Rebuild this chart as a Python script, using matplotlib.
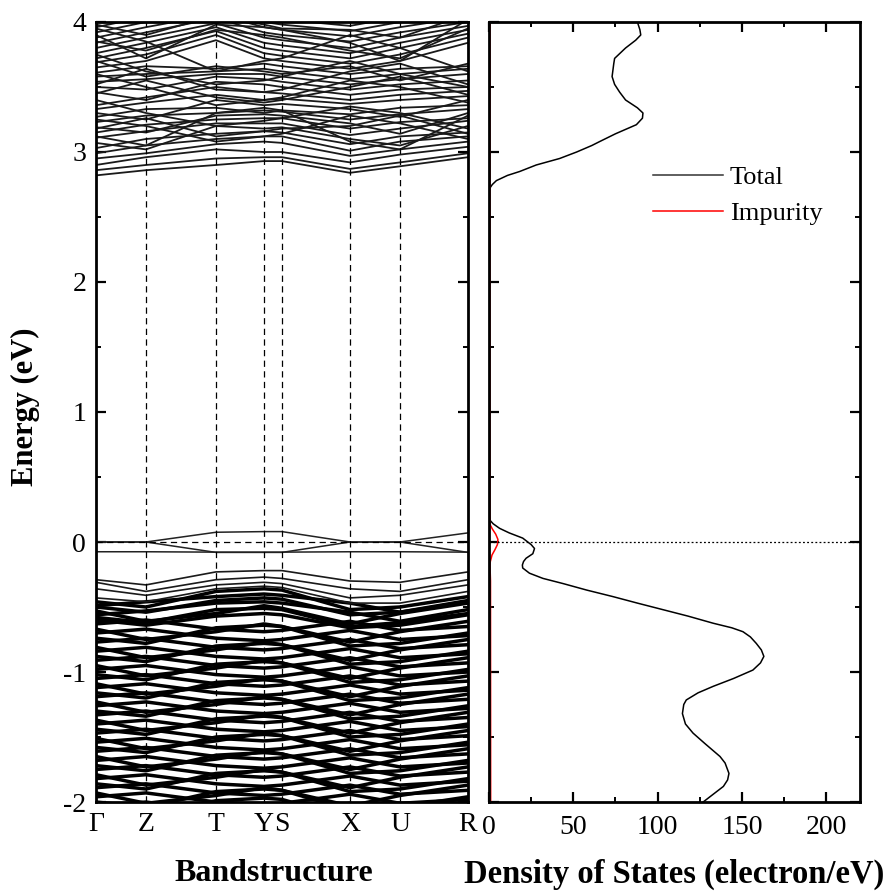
import matplotlib
matplotlib.use('Agg')
import matplotlib.pyplot as plt
from matplotlib.ticker import MultipleLocator

plt.rcParams['font.family'] = ['Liberation Serif', 'DejaVu Serif']
plt.rcParams['axes.unicode_minus'] = False

# ---------------- data ----------------
k_labels = ['Γ', 'Z', 'T', 'Y', 'S', 'X', 'U', 'R']
k_pos = [0, 50, 120, 168, 186, 254, 304, 372]

# band energies (eV) at Γ, Z, T, Y, S, X, U, R
impurity_bands = [
    [0.00, 0.00, 0.075, 0.08, 0.08, 0.00, 0.00, 0.07],
    [0.00, 0.00, -0.08, -0.08, -0.08, 0.00, 0.00, -0.08],
    [-0.075, -0.075, -0.078, -0.078, -0.078, -0.075, -0.075, -0.078],
]

edge_valence_bands = [
    [-0.29, -0.33, -0.23, -0.22, -0.22, -0.30, -0.31, -0.23],
    [-0.31, -0.38, -0.29, -0.27, -0.28, -0.36, -0.38, -0.29],
    [-0.36, -0.41, -0.33, -0.31, -0.32, -0.43, -0.41, -0.33],
    [-0.43, -0.46, -0.36, -0.34, -0.35, -0.47, -0.47, -0.38],
]

valence_bands = [
    [-0.46, -0.50, -0.38, -0.36, -0.37, -0.52, -0.50, -0.42],
    [-0.49, -0.46, -0.42, -0.40, -0.41, -0.47, -0.54, -0.45],
    [-0.50, -0.54, -0.45, -0.43, -0.44, -0.56, -0.54, -0.46],
    [-0.53, -0.61, -0.55, -0.49, -0.51, -0.63, -0.55, -0.47],
    [-0.56, -0.53, -0.47, -0.46, -0.47, -0.54, -0.61, -0.52],
    [-0.58, -0.62, -0.52, -0.51, -0.52, -0.65, -0.62, -0.55],
    [-0.60, -0.64, -0.57, -0.55, -0.56, -0.66, -0.64, -0.56],
    [-0.63, -0.60, -0.67, -0.69, -0.68, -0.61, -0.68, -0.65],
    [-0.67, -0.75, -0.69, -0.63, -0.65, -0.77, -0.69, -0.61],
    [-0.70, -0.67, -0.74, -0.76, -0.75, -0.68, -0.75, -0.72],
    [-0.74, -0.78, -0.66, -0.64, -0.65, -0.80, -0.78, -0.70],
    [-0.77, -0.74, -0.81, -0.83, -0.82, -0.75, -0.82, -0.79],
    [-0.81, -0.89, -0.83, -0.77, -0.79, -0.91, -0.83, -0.75],
    [-0.84, -0.81, -0.88, -0.90, -0.89, -0.82, -0.89, -0.86],
    [-0.88, -0.92, -0.80, -0.78, -0.79, -0.94, -0.92, -0.84],
    [-0.91, -0.88, -0.95, -0.97, -0.96, -0.89, -0.96, -0.93],
    [-0.95, -1.03, -0.97, -0.91, -0.93, -1.05, -0.97, -0.89],
    [-0.98, -0.95, -1.02, -1.04, -1.03, -0.96, -1.03, -1.00],
    [-1.02, -1.06, -0.94, -0.92, -0.93, -1.08, -1.06, -0.98],
    [-1.05, -1.02, -1.09, -1.11, -1.10, -1.03, -1.10, -1.07],
    [-1.09, -1.17, -1.11, -1.05, -1.07, -1.19, -1.11, -1.03],
    [-1.12, -1.09, -1.16, -1.18, -1.17, -1.10, -1.17, -1.14],
    [-1.16, -1.20, -1.08, -1.06, -1.07, -1.22, -1.20, -1.12],
    [-1.19, -1.16, -1.23, -1.25, -1.24, -1.17, -1.24, -1.21],
    [-1.23, -1.31, -1.25, -1.19, -1.21, -1.33, -1.25, -1.17],
    [-1.26, -1.23, -1.30, -1.32, -1.31, -1.24, -1.31, -1.28],
    [-1.30, -1.34, -1.22, -1.20, -1.21, -1.36, -1.34, -1.26],
    [-1.33, -1.30, -1.37, -1.39, -1.38, -1.31, -1.38, -1.35],
    [-1.37, -1.45, -1.39, -1.33, -1.35, -1.47, -1.39, -1.31],
    [-1.40, -1.37, -1.44, -1.46, -1.45, -1.38, -1.45, -1.42],
    [-1.44, -1.48, -1.36, -1.34, -1.35, -1.50, -1.48, -1.40],
    [-1.47, -1.44, -1.51, -1.53, -1.52, -1.45, -1.52, -1.49],
    [-1.51, -1.59, -1.53, -1.47, -1.49, -1.61, -1.53, -1.45],
    [-1.54, -1.51, -1.58, -1.60, -1.59, -1.52, -1.59, -1.56],
    [-1.58, -1.62, -1.50, -1.48, -1.49, -1.64, -1.62, -1.54],
    [-1.61, -1.58, -1.65, -1.67, -1.66, -1.59, -1.66, -1.63],
    [-1.65, -1.73, -1.67, -1.61, -1.63, -1.75, -1.67, -1.59],
    [-1.68, -1.65, -1.72, -1.74, -1.73, -1.66, -1.73, -1.70],
    [-1.72, -1.76, -1.64, -1.62, -1.63, -1.78, -1.76, -1.68],
    [-1.75, -1.72, -1.79, -1.81, -1.80, -1.73, -1.80, -1.77],
    [-1.79, -1.87, -1.81, -1.75, -1.77, -1.89, -1.81, -1.73],
    [-1.82, -1.79, -1.86, -1.88, -1.87, -1.80, -1.87, -1.84],
    [-1.86, -1.90, -1.78, -1.76, -1.77, -1.92, -1.90, -1.82],
    [-1.89, -1.86, -1.93, -1.95, -1.94, -1.87, -1.94, -1.91],
    [-1.93, -2.01, -1.95, -1.89, -1.91, -2.03, -1.95, -1.87],
    [-1.96, -1.93, -2.00, -2.02, -2.01, -1.94, -2.01, -1.98],
    [-2.00, -2.04, -1.92, -1.90, -1.91, -2.06, -2.04, -1.96],
    [-2.03, -2.00, -2.07, -2.09, -2.08, -2.01, -2.08, -2.05],
    [-2.07, -2.11, -1.99, -1.97, -1.98, -2.13, -2.11, -2.03],
]

conduction_bands = [
    [2.82, 2.86, 2.90, 2.93, 2.93, 2.84, 2.89, 2.96],
    [2.86, 2.90, 2.95, 2.96, 2.96, 2.87, 2.92, 2.99],
    [2.90, 2.96, 3.02, 3.00, 3.00, 2.92, 2.98, 3.04],
    [2.95, 2.99, 3.06, 3.08, 3.07, 2.97, 3.02, 3.08],
    [2.99, 3.05, 3.10, 3.12, 3.12, 3.01, 3.08, 3.12],
    [3.03, 3.10, 3.14, 3.16, 3.15, 3.06, 3.12, 3.15],
    [3.07, 3.02, 3.20, 3.18, 3.19, 3.10, 3.05, 3.20],
    [3.11, 3.16, 3.22, 3.22, 3.22, 3.13, 3.18, 3.24],
    [3.15, 3.21, 3.25, 3.26, 3.26, 3.18, 3.23, 3.26],
    [3.19, 3.15, 3.28, 3.29, 3.28, 3.22, 3.14, 3.30],
    [3.23, 3.28, 3.30, 3.32, 3.31, 3.25, 3.29, 3.33],
    [3.27, 3.33, 3.34, 3.30, 3.32, 3.29, 3.34, 3.36],
    [3.30, 3.25, 3.40, 3.36, 3.37, 3.33, 3.27, 3.40],
    [3.33, 3.38, 3.44, 3.40, 3.41, 3.37, 3.40, 3.43],
    [3.36, 3.42, 3.50, 3.46, 3.45, 3.40, 3.44, 3.47],
    [3.46, 3.40, 3.54, 3.52, 3.50, 3.44, 3.48, 3.50],
    [3.50, 3.48, 3.58, 3.56, 3.54, 3.48, 3.52, 3.55],
    [3.54, 3.56, 3.60, 3.60, 3.58, 3.52, 3.56, 3.60],
    [3.58, 3.60, 3.62, 3.64, 3.62, 3.56, 3.60, 3.64],
    [3.61, 3.66, 3.64, 3.68, 3.66, 3.60, 3.64, 3.66],
    [3.65, 3.70, 3.86, 3.72, 3.70, 3.64, 3.70, 3.84],
    [3.69, 3.75, 3.90, 3.76, 3.74, 3.68, 3.75, 3.88],
    [3.72, 3.80, 3.93, 3.80, 3.78, 3.72, 3.80, 3.91],
    [3.76, 3.84, 3.96, 3.84, 3.82, 3.76, 3.84, 3.94],
    [3.80, 3.88, 3.99, 3.88, 3.86, 3.80, 3.88, 3.97],
    [3.84, 3.92, 4.03, 3.92, 3.90, 3.85, 3.92, 4.00],
    [3.88, 3.96, 4.06, 3.96, 3.94, 3.89, 3.96, 4.04],
    [3.92, 4.00, 4.10, 4.00, 3.98, 3.93, 4.00, 4.08],
    [3.96, 4.04, 4.12, 4.04, 4.02, 3.97, 4.04, 4.10],
    [4.00, 4.08, 4.15, 4.08, 4.06, 4.01, 4.08, 4.12],
    [3.40, 3.30, 3.20, 3.24, 3.26, 3.35, 3.30, 3.18],
    [3.60, 3.50, 3.36, 3.40, 3.42, 3.55, 3.50, 3.38],
    [3.75, 3.62, 3.52, 3.55, 3.58, 3.70, 3.60, 3.50],
    [3.95, 3.85, 3.62, 3.70, 3.72, 3.90, 3.80, 3.62],
    [3.25, 3.20, 3.08, 3.12, 3.14, 3.28, 3.22, 3.10],
    [3.12, 3.05, 3.30, 3.34, 3.32, 3.08, 3.02, 3.28],
    [3.45, 3.55, 3.42, 3.38, 3.40, 3.50, 3.58, 3.44],
    [3.70, 3.58, 3.66, 3.62, 3.60, 3.66, 3.55, 3.68],
    [3.85, 3.78, 3.94, 3.90, 3.88, 3.78, 3.72, 3.95],
    [3.52, 3.64, 3.48, 3.46, 3.48, 3.62, 3.68, 3.52],
    [3.18, 3.26, 3.12, 3.16, 3.18, 3.20, 3.28, 3.14],
    [3.90, 3.72, 3.98, 3.96, 3.94, 3.84, 3.70, 4.02],
    [3.98, 3.90, 4.05, 3.98, 3.95, 3.94, 3.88, 4.06],
]

# density of states
dos_energy = [-2.00, -1.94, -1.88, -1.83, -1.78, -1.70, -1.65, -1.55, -1.47, -1.40,
              -1.32, -1.25, -1.215, -1.16, -1.11, -1.05, -0.985, -0.93, -0.88, -0.83,
              -0.78, -0.73, -0.69, -0.66, -0.625, -0.57, -0.52, -0.47, -0.42, -0.37,
              -0.32, -0.28, -0.24, -0.20, -0.177, -0.15, -0.125, -0.09, -0.05, -0.02,
              0.03, 0.07, 0.105, 0.14, 0.17, 0.22, 2.68, 2.72, 2.75, 2.78,
              2.82, 2.85, 2.90, 2.95, 3.00, 3.05, 3.08, 3.14, 3.21, 3.26,
              3.30, 3.34, 3.40, 3.46, 3.52, 3.58, 3.63, 3.68, 3.72, 3.80,
              3.86, 3.90, 3.94, 4.00]
dos_total = [127, 133, 139, 141.5, 142.3, 140, 137, 128, 121, 116.5,
             114.7, 115.5, 117, 124, 133, 145, 156.5, 161, 163, 161.5,
             158.5, 155, 150.6, 144, 133, 118, 103, 88, 73.5, 58,
             44, 32, 24, 20, 19.8, 20.5, 22, 26, 27, 25,
             20, 12, 6.3, 2.5, 0.4, 0, 0, 0.4, 2, 4.4,
             11, 18.2, 28, 41.9, 52, 61, 65.6, 75, 87.4, 91,
             91.3, 88, 81, 77.5, 74.5, 73, 73.5, 74, 74.5, 81,
             87, 90, 89.5, 88]

imp_energy = [-2.00, -0.30, -0.18, -0.15, -0.10, -0.06, -0.02, 0.02, 0.06, 0.10,
              0.13, 0.20, 4.00]
imp_dos = [1.0, 0.9, 0.6, 0.8, 1.8, 3.5, 5.0, 5.3, 4.0, 2.0,
           0.8, 0.6, 0.6]

# ---------------- figure ----------------
fig = plt.figure(figsize=(8.91, 8.94), dpi=100)
ax1 = fig.add_axes([0.1077, 0.1029, 0.4175, 0.8725])
ax2 = fig.add_axes([0.5488, 0.1029, 0.4164, 0.8725])

for b in valence_bands:
    ax1.plot(k_pos, b, color='k', lw=2.5, solid_joinstyle='round')
for b in edge_valence_bands:
    ax1.plot(k_pos, b, color='#1a1a1a', lw=1.2)
for b in conduction_bands:
    ax1.plot(k_pos, b, color='#1a1a1a', lw=1.3)
for b in impurity_bands:
    ax1.plot(k_pos, b, color='#222222', lw=1.1)

for p in k_pos[1:-1]:
    ax1.axvline(p, color='k', lw=0.9, ls=(0, (5, 3.5)), zorder=3)
ax1.axhline(0, color='k', lw=0.9, ls=(0, (5, 3.5)), zorder=3)

ax1.set_xlim(k_pos[0], k_pos[-1])
ax1.set_ylim(-2, 4)
ax1.set_xticks(k_pos)
ax1.set_xticklabels(k_labels)
ax1.tick_params(axis='x', length=0, pad=7, labelsize=20)
ax1.yaxis.set_major_locator(MultipleLocator(1))
ax1.yaxis.set_minor_locator(MultipleLocator(0.5))
ax1.tick_params(axis='y', which='both', direction='in', left=True, right=True,
                labelsize=20, pad=7)
ax1.tick_params(axis='y', which='major', length=7, width=1.6)
ax1.tick_params(axis='y', which='minor', length=3.5, width=1.4)
ax1.set_ylabel('Energy (eV)', fontsize=22, fontweight='bold')
ax1.yaxis.set_label_coords(-0.15, 0.507)
ax1.set_xlabel('Bandstructure', fontsize=23, fontweight='bold')
ax1.xaxis.set_label_coords(0.478, -0.073)

ax2.plot(dos_total, dos_energy, color='k', lw=1.1, label='Total')
ax2.plot(imp_dos, imp_energy, color='red', lw=1.1, label='Impurity')
ax2.axhline(0, color='k', lw=0.9, ls=(0, (1.5, 1.8)), zorder=3)
ax2.set_xlim(0, 220)
ax2.set_ylim(-2, 4)
ax2.xaxis.set_major_locator(MultipleLocator(50))
ax2.xaxis.set_minor_locator(MultipleLocator(25))
ax2.yaxis.set_major_locator(MultipleLocator(1))
ax2.yaxis.set_minor_locator(MultipleLocator(0.5))
ax2.tick_params(axis='both', which='both', direction='in', top=True, bottom=True,
                left=True, right=True, labelleft=False, labelsize=20)
ax2.tick_params(axis='x', pad=9)
ax2.tick_params(which='major', length=7, width=1.6)
ax2.tick_params(which='minor', length=3.5, width=1.4)
ax2.set_xlabel('Density of States (electron/eV)', fontsize=23.5, fontweight='bold')
ax2.xaxis.set_label_coords(0.5, -0.073)

leg = ax2.legend(loc='upper left', bbox_to_anchor=(0.442, 0.816), frameon=False,
                 fontsize=19, handlelength=2.65, handletextpad=0.27,
                 labelspacing=0.47, borderpad=0, borderaxespad=0)
leg.get_lines()[0].set_color('#333333')

for ax in (ax1, ax2):
    for s in ax.spines.values():
        s.set_linewidth(2.0)

fig.savefig('out.png', dpi=100)
